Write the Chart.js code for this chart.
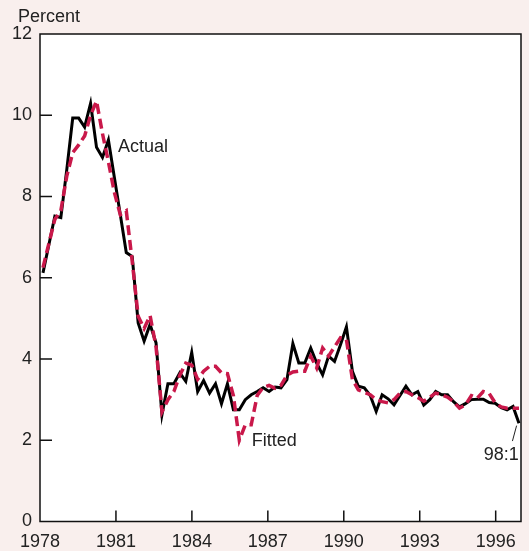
<!DOCTYPE html>
<html>
<head>
<meta charset="utf-8">
<script src="https://cdn.jsdelivr.net/npm/chart.js@4/dist/chart.umd.min.js"></script>
<style>
  html, body { margin: 0; padding: 0; background: #f9efed; }
  #wrap { width: 529px; height: 551px; }
  canvas { display: block; }
</style>
</head>
<body>
<div id="wrap"><canvas id="chart" width="529" height="551"></canvas></div>
<script>
// Quarterly observations, 1978:1 through 1998:1
const quarters = [];
for (let y = 1978; y <= 1998; y++) {
  for (let q = 1; q <= 4; q++) {
    if (y === 1998 && q > 1) break;
    quarters.push(String(y).slice(2) + ':' + q);
  }
}

// Actual rate, percent
const actual = [
  6.12, 6.82, 7.52, 7.48, 8.66, 9.93, 9.93, 9.71,
  10.29, 9.21, 8.96, 9.39, 8.47, 7.55, 6.62, 6.52,
  4.89, 4.44, 4.85, 4.40, 2.63, 3.39, 3.39, 3.66,
  3.45, 4.16, 3.20, 3.47, 3.16, 3.39, 2.90, 3.39,
  2.75, 2.75, 3.00, 3.12, 3.20, 3.29, 3.20, 3.31,
  3.29, 3.49, 4.38, 3.90, 3.90, 4.27, 3.90, 3.61,
  4.07, 3.94, 4.35, 4.79, 3.70, 3.33, 3.29, 3.10,
  2.71, 3.12, 3.02, 2.87, 3.10, 3.33, 3.12, 3.20,
  2.87, 3.00, 3.20, 3.12, 3.12, 2.95, 2.82, 2.90,
  3.00, 3.01, 3.01, 2.93, 2.91, 2.80, 2.75, 2.83,
  2.42
];

// Fitted rate, percent
const fitted = [
  6.25, 6.85, 7.44, 7.65, 8.50, 9.08, 9.27, 9.49,
  10.00, 10.35, 9.55, 8.85, 8.10, 7.55, 7.65, 6.40,
  5.05, 4.75, 5.07, 4.30, 2.70, 3.00, 3.20, 3.60,
  3.90, 3.85, 3.50, 3.70, 3.82, 3.82, 3.66, 3.64,
  3.10, 2.00, 2.38, 2.38, 3.10, 3.30, 3.35, 3.28,
  3.35, 3.60, 3.68, 3.70, 3.70, 4.07, 3.78, 4.27,
  4.07, 4.30, 4.52, 4.48, 3.50, 3.24, 3.18, 3.12,
  3.00, 2.95, 2.92, 3.00, 3.16, 3.20, 3.12, 3.05,
  2.96, 3.06, 3.16, 3.12, 3.06, 2.95, 2.79, 2.87,
  3.10, 3.04, 3.20, 3.15, 2.92, 2.82, 2.79, 2.79,
  2.79
];

const yearTicks = [1978, 1981, 1984, 1987, 1990, 1993, 1996];
const percentTicks = [0, 2, 4, 6, 8, 10, 12];

const FONT = '"Liberation Sans", Arial, Helvetica, sans-serif';
const TEXT = '#222222';

const toPoints = arr => arr.map((v, i) => ({ x: i, y: v }));

// Panel background, frame, inward tick marks and series labels
const panel = {
  id: 'panel',
  beforeDraw(chart) {
    const { ctx, chartArea: a } = chart;
    ctx.save();
    ctx.fillStyle = '#f9efed';
    ctx.fillRect(0, 0, chart.width, chart.height);
    ctx.fillStyle = '#ffffff';
    ctx.fillRect(a.left, a.top, a.right - a.left, a.bottom - a.top);
    ctx.restore();
  },
  beforeDatasetsDraw(chart) {
    const { ctx, chartArea: a, scales } = chart;
    ctx.save();
    ctx.strokeStyle = '#111111';
    ctx.lineWidth = 1.5;
    ctx.beginPath();
    scales.y.ticks.forEach(t => {
      if (t.value <= 0 || t.value >= 12) return;
      const py = scales.y.getPixelForValue(t.value);
      ctx.moveTo(a.left, py);
      ctx.lineTo(a.left + 12, py);
    });
    scales.yr.ticks.forEach(t => {
      const px = scales.yr.getPixelForValue(t.value);
      if (px <= a.left + 1) return;
      ctx.moveTo(px, a.bottom);
      ctx.lineTo(px, a.bottom - 11);
    });
    ctx.stroke();
    ctx.restore();
  },
  afterDatasetsDraw(chart) {
    const { ctx, chartArea: a, scales } = chart;
    const X = v => scales.x.getPixelForValue(v);
    const Y = v => scales.y.getPixelForValue(v);
    ctx.save();
    ctx.strokeStyle = '#111111';
    ctx.lineWidth = 1.5;
    ctx.strokeRect(a.left, a.top, a.right - a.left, a.bottom - a.top);

    ctx.fillStyle = TEXT;
    ctx.font = '18px ' + FONT;
    ctx.textBaseline = 'middle';
    ctx.textAlign = 'left';
    ctx.fillText('Actual', X(12.6), Y(9.21));
    ctx.fillText('Fitted', X(35.1), Y(1.98));
    ctx.textAlign = 'right';
    ctx.fillText('98:1', X(79.95), Y(1.64));
    ctx.fillText('Percent', a.left + 40, a.top - 17);

    ctx.lineWidth = 1;
    ctx.strokeStyle = '#222222';
    ctx.beginPath();
    ctx.moveTo(X(79.6), Y(2.36));
    ctx.lineTo(X(78.9), Y(1.98));
    ctx.stroke();
    ctx.restore();
  }
};

new Chart(document.getElementById('chart'), {
  type: 'line',
  data: {
    labels: quarters,
    datasets: [
      {
        label: 'Fitted',
        data: toPoints(fitted),
        borderColor: '#c9184a',
        borderWidth: 3.5,
        borderDash: [10, 5],
        pointRadius: 0,
        tension: 0,
        fill: false,
        order: 0
      },
      {
        label: 'Actual',
        data: toPoints(actual),
        borderColor: '#000000',
        borderWidth: 3,
        pointRadius: 0,
        tension: 0,
        fill: false,
        order: 1
      }
    ]
  },
  options: {
    responsive: false,
    animation: false,
    devicePixelRatio: 1,
    layout: { padding: { top: 34, right: 8, left: 0, bottom: 0 } },
    plugins: {
      legend: { display: false },
      tooltip: { enabled: false }
    },
    scales: {
      x: {
        type: 'linear',
        display: false,
        min: -0.5,
        max: 80.34
      },
      yr: {
        type: 'linear',
        position: 'bottom',
        min: 1978,
        max: 1997,
        afterBuildTicks: s => { s.ticks = yearTicks.map(v => ({ value: v })); },
        afterFit: s => { s.height = 29.5; },
        grid: { display: false, drawTicks: false },
        border: { display: false },
        ticks: {
          padding: 10,
          color: TEXT,
          font: { family: FONT, size: 18 },
          maxRotation: 0,
          autoSkip: false,
          callback: v => String(v)
        }
      },
      y: {
        type: 'linear',
        min: 0,
        max: 12,
        afterBuildTicks: s => { s.ticks = percentTicks.map(v => ({ value: v })); },
        afterFit: s => { s.width = 40; },
        grid: { display: false, drawTicks: false },
        border: { display: false },
        ticks: {
          padding: 8,
          color: TEXT,
          font: { family: FONT, size: 18 },
          callback: v => String(v)
        }
      }
    }
  },
  plugins: [panel]
});
</script>
</body>
</html>
